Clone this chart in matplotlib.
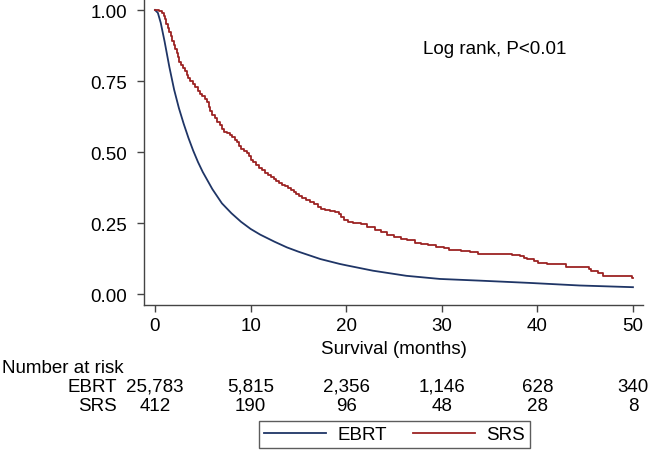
import matplotlib
matplotlib.use("Agg")
import matplotlib.pyplot as plt
import matplotlib.transforms as mtransforms

plt.rcParams['font.family'] = ['Liberation Sans', 'DejaVu Sans']

# EBRT Kaplan-Meier estimate (large group, smooth)
ebrt_t = [0, 0.3, 0.6, 1.0, 1.5, 2.0, 2.5, 3.0, 3.5, 4.0, 4.5, 5.0, 5.5, 6.0,
          7.0, 8.0, 9.0, 10.0, 11.0, 12.5, 13.8, 15.0, 17.3, 19.3, 20.0,
          22.8, 26.3, 29.8, 34.0, 39.2, 44.4, 50.0]
ebrt_s = [1.0, 0.99, 0.955, 0.89, 0.80, 0.72, 0.655, 0.60, 0.55, 0.505, 0.465,
          0.43, 0.40, 0.37, 0.32, 0.285, 0.255, 0.23, 0.21, 0.185, 0.165, 0.15,
          0.124, 0.107, 0.102, 0.083, 0.065, 0.054, 0.048, 0.04, 0.031, 0.025]

# SRS Kaplan-Meier estimate (step function)
srs_t = [0, 0.4, 0.7, 0.9, 1.05, 1.2, 1.35, 1.5, 1.65, 1.8, 1.95, 2.1, 2.25, 2.4,
         2.55, 2.7, 2.9, 3.1, 3.3, 3.5, 3.7, 3.95, 4.2, 4.45, 4.7, 4.95, 5.2, 5.4,
         5.6, 5.8, 6.0, 6.25, 6.5, 6.75, 7.0, 7.25, 7.5, 7.8, 8.1, 8.35, 8.6, 8.8,
         9.0, 9.3, 9.6, 9.8, 10.0, 10.3, 10.6, 10.9, 11.2, 11.5, 11.8, 12.1, 12.4,
         12.7, 13.0, 13.3, 13.6, 13.9, 14.2, 14.5, 14.8, 15.1, 15.4, 15.8, 16.2,
         16.6, 17.0, 17.4, 17.8, 18.3, 18.8, 19.2, 19.5, 19.8, 20.2, 20.7, 21.5,
         22.2, 23.0, 23.6, 24.3, 25.0, 25.7, 26.4, 27.2, 27.8, 28.6, 29.4, 30.2,
         30.8, 32.0, 33.0, 33.8, 37.3, 38.2, 38.6, 38.9, 39.6, 40.1, 41.0, 42.97,
         45.4, 45.6, 46.3, 46.9, 49.9, 50.0]
srs_s = [1.0, 0.997, 0.99, 0.98, 0.968, 0.952, 0.938, 0.922, 0.908, 0.892, 0.878,
         0.862, 0.848, 0.833, 0.818, 0.806, 0.795, 0.785, 0.772, 0.76, 0.75, 0.74,
         0.728, 0.716, 0.706, 0.698, 0.688, 0.675, 0.66, 0.645, 0.632, 0.62, 0.607,
         0.595, 0.582, 0.572, 0.566, 0.56, 0.552, 0.543, 0.535, 0.522, 0.512,
         0.505, 0.497, 0.485, 0.474, 0.466, 0.455, 0.445, 0.437, 0.428, 0.42,
         0.412, 0.405, 0.399, 0.392, 0.386, 0.38, 0.373, 0.366, 0.36, 0.353,
         0.346, 0.34, 0.332, 0.325, 0.316, 0.306, 0.299, 0.296, 0.293, 0.288,
         0.282, 0.272, 0.262, 0.255, 0.25, 0.247, 0.238, 0.225, 0.218, 0.21,
         0.203, 0.196, 0.19, 0.182, 0.176, 0.172, 0.168, 0.162, 0.157, 0.154,
         0.148, 0.142, 0.138, 0.134, 0.128, 0.124, 0.118, 0.110, 0.105, 0.096,
         0.088, 0.081, 0.075, 0.066, 0.056, 0.056]

x_ticks = [0, 10, 20, 30, 40, 50]
y_ticks = [0.0, 0.25, 0.5, 0.75, 1.0]
risk_times = [0, 10, 20, 30, 40, 50]
risk_ebrt = ["25,783", "5,815", "2,356", "1,146", "628", "340"]
risk_srs = ["412", "190", "96", "48", "28", "8"]

blue = "#1f3566"
red = "#9c2323"
fs = 13.5

W, H = 650, 452
fig = plt.figure(figsize=(W / 100, H / 100), dpi=100)
ax = fig.add_axes([144 / W, 1 - 305.7 / H, (643 - 144) / W, 305.7 / H])

ax.plot(ebrt_t, ebrt_s, color=blue, lw=1.3, label="EBRT")
ax.plot(srs_t, srs_s, color=red, lw=1.3, drawstyle="steps-post", label="SRS")

ax.set_xlim(-1.15, 51.05)
ax.set_ylim(-0.0366, 1.0387)
ax.set_xticks(x_ticks)
ax.set_yticks(y_ticks)
ax.set_yticklabels([f"{v:.2f}" for v in y_ticks])
for s in ["top", "right"]:
    ax.spines[s].set_visible(False)
for s in ["left", "bottom"]:
    ax.spines[s].set_color("#444444")
    ax.spines[s].set_linewidth(1.0)
ax.tick_params(axis="x", length=5, width=1, color="#444444", pad=4, labelsize=fs)
ax.tick_params(axis="y", length=5, width=1, color="#444444", pad=7, labelsize=fs)

ax.text(35.5, 0.863, "Log rank, P<0.01", ha="center", va="center", fontsize=fs)

trans = mtransforms.blended_transform_factory(ax.transData, fig.transFigure)
fig.text(25, 1 - 349 / H, "Survival (months)", transform=trans,
         ha="center", va="center", fontsize=fs)

fig.text(2 / W, 1 - 369 / H, "Number at risk", ha="left", va="center", fontsize=fs)
fig.text(117 / W, 1 - 387 / H, "EBRT", ha="right", va="center", fontsize=fs)
fig.text(117 / W, 1 - 407 / H, "SRS", ha="right", va="center", fontsize=fs)
for t, e, s in zip(risk_times, risk_ebrt, risk_srs):
    fig.text(t, 1 - 387 / H, e, transform=trans, ha="center", va="center", fontsize=fs)
    fig.text(t, 1 - 407 / H, s, transform=trans, ha="center", va="center", fontsize=fs)

h, l = ax.get_legend_handles_labels()
leg = fig.legend(h, l, loc="center", bbox_to_anchor=((259 + 530) / 2 / W, 1 - 435.5 / H),
                 ncol=2, frameon=True, fancybox=False, fontsize=fs,
                 handlelength=3.3, handletextpad=0.6, columnspacing=1.4,
                 borderpad=0.25, borderaxespad=0)
leg.get_frame().set_edgecolor("#333333")
leg.get_frame().set_linewidth(1.0)

fig.savefig("out.png", dpi=100)
